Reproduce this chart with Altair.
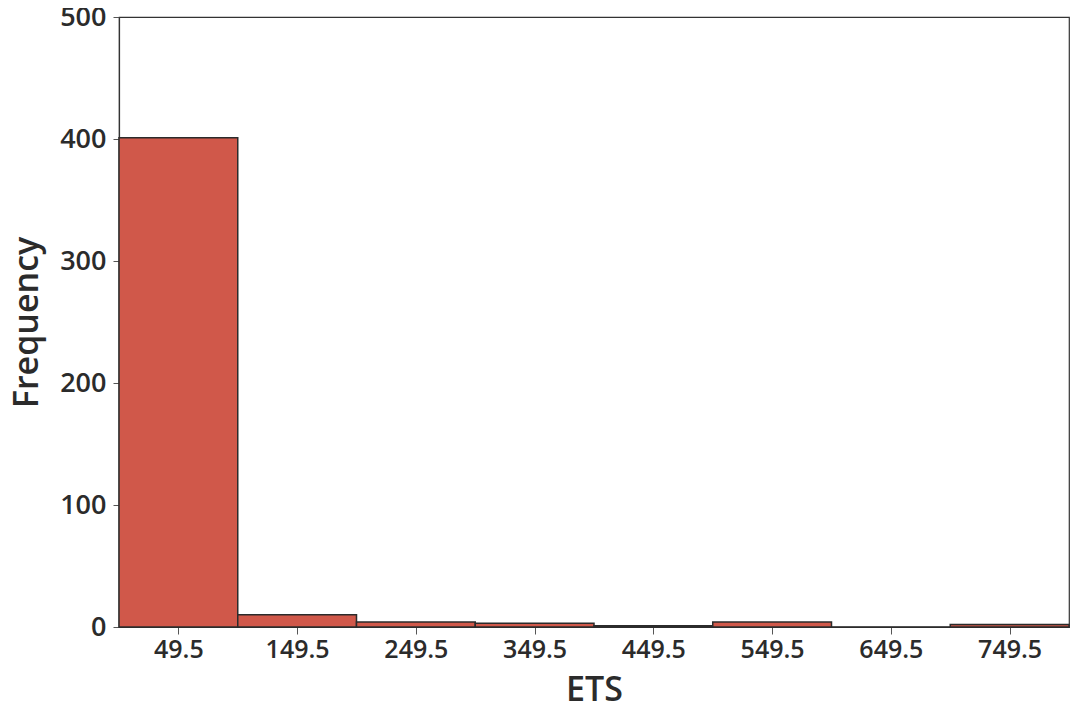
import altair as alt
import pandas as pd

bin_centers = [49.5, 149.5, 249.5, 349.5, 449.5, 549.5, 649.5, 749.5]
counts = [401, 10, 4, 3, 1, 4, 0, 2]
bin_width = 100
y_ticks = [0, 100, 200, 300, 400, 500]

df = pd.DataFrame({
    "center": bin_centers,
    "start": [c - bin_width / 2 for c in bin_centers],
    "end": [c + bin_width / 2 for c in bin_centers],
    "count": counts,
})

FONT = "Open Sans"

chart = alt.Chart(df).mark_rect(
    color="#D0584A", stroke="#2b2b2b", strokeWidth=1.5
).encode(
    x=alt.X("start:Q",
            scale=alt.Scale(domain=[-0.5, 799.5], nice=False, zero=False),
            axis=alt.Axis(values=bin_centers, format=".1f", title="ETS",
                          grid=False, tickSize=7, labelPadding=3,
                          labelFontSize=25, titlePadding=11)),
    x2="end:Q",
    y=alt.Y("count:Q",
            scale=alt.Scale(domain=[0, 500], nice=False),
            axis=alt.Axis(values=y_ticks, title="Frequency", grid=False,
                          tickSize=6, labelPadding=7, labelFontSize=27,
                          titlePadding=15)),
    y2=alt.datum(0),
).properties(
    width=950, height=610,
    autosize="none",
    padding={"left": 111, "top": 9, "right": 1, "bottom": 77},
).configure_view(
    stroke="#333333", strokeWidth=1.2
).configure_axis(
    domainColor="#333333", tickColor="#555555", domainWidth=1.2,
    labelFont=FONT, labelFontWeight=600, labelColor="#2b2b2b",
    titleFont=FONT, titleFontSize=34, titleFontWeight=600, titleColor="#2b2b2b",
)

chart.save("out.html", embed_options={"renderer": "svg", "actions": False})
